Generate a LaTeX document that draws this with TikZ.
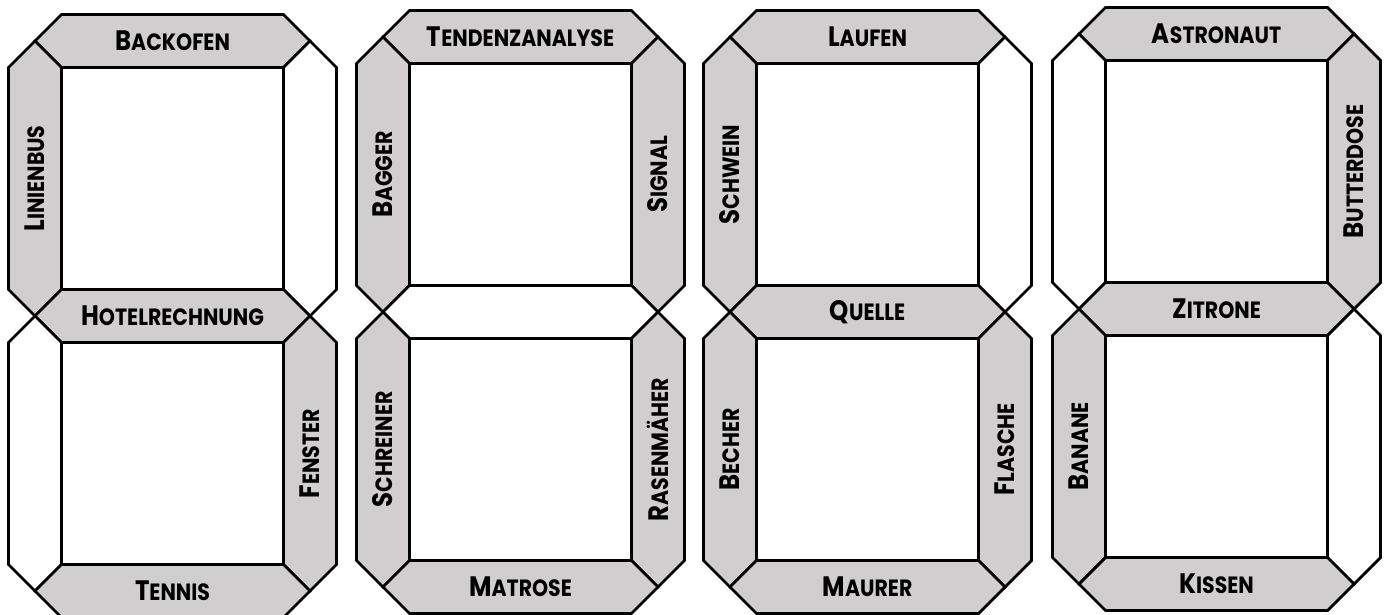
\documentclass[tikz,border=0pt]{standalone}
\usepackage{fontspec}
\setmainfont{Poppins}[FakeStretch=0.87]
\usepackage{tikz}

\definecolor{seggray}{HTML}{D0CECE}

% segment geometry (in px units)
\newcommand{\segh}{26.5}
\newcommand{\segl}{222}

% horizontal and vertical segment, drawn from the left/top tip
\newcommand{\hseg}[3]{\draw[#3] (#1,#2) -- ++(\segh,\segh) -- ++(\segl,0) -- ++(\segh,-\segh) -- ++(-\segh,-\segh) -- ++(-\segl,0) -- cycle;}
\newcommand{\vseg}[3]{\draw[#3] (#1,#2) -- ++(\segh,-\segh) -- ++(0,-\segl) -- ++(-\segh,-\segh) -- ++(-\segh,\segh) -- ++(0,\segl) -- cycle;}

% small caps by hand
\newcommand{\sccap}[2]{{\fontsize{16}{16}\selectfont #1}{\fontsize{13.4}{13}\selectfont #2}}

\begin{document}
\begin{tikzpicture}[
    x=0.02cm, y=0.02cm,
    seg/.style={line width=1.6pt},
    on/.style={seg, fill=seggray},
    off/.style={seg, fill=white},
    lbl/.style={font=\bfseries, inner sep=0pt}
]

\useasboundingbox (0,0) rectangle (1387,-615);

% ==================== DIGIT 1 ====================
\begin{scope}[shift={(35,-41)}]
    % Segments
    \hseg{0}{0}{on}
    \vseg{0}{0}{on}
    \vseg{275}{0}{off}
    \hseg{0}{-275}{on}
    \vseg{0}{-275}{off}
    \vseg{275}{-275}{on}
    \hseg{0}{-550}{on}

    % Labels
    \node[lbl] (backofen) at (137.5,0) {\sccap{B}{ACKOFEN}};
    \node[lbl, rotate=90] (linienbus) at (0,-137.5) {\sccap{L}{INIENBUS}};
    \node[lbl] (hotel) at (137.5,-275) {\sccap{H}{OTELRECHNUNG}};
    \node[lbl, rotate=90] (fenster) at (275,-412.5) {\sccap{F}{ENSTER}};
    \node[lbl] (tennis) at (137.5,-550) {\sccap{T}{ENNIS}};
\end{scope}

% ==================== DIGIT 2 ====================
\begin{scope}[shift={(383,-37)}]
    % Segments
    \hseg{0}{0}{on}
    \vseg{0}{0}{on}
    \vseg{275}{0}{on}
    \hseg{0}{-275}{off}
    \vseg{0}{-275}{on}
    \vseg{275}{-275}{on}
    \hseg{0}{-550}{on}

    % Labels
    \node[lbl] (tendenz) at (137.5,0) {\sccap{T}{ENDENZANALYSE}};
    \node[lbl, rotate=90] (bagger) at (0,-137.5) {\sccap{B}{AGGER}};
    \node[lbl, rotate=90] (signal) at (275,-137.5) {\sccap{S}{IGNAL}};
    \node[lbl, rotate=90] (schreiner) at (0,-412.5) {\sccap{S}{CHREINER}};
    \node[lbl, rotate=90] (rasen) at (275,-412.5) {\sccap{R}{ASENMÄHER}};
    \node[lbl] (matrose) at (137.5,-550) {\sccap{M}{ATROSE}};
\end{scope}

% ==================== DIGIT 3 ====================
\begin{scope}[shift={(730,-37)}]
    % Segments
    \hseg{0}{0}{on}
    \vseg{0}{0}{on}
    \vseg{275}{0}{off}
    \hseg{0}{-275}{on}
    \vseg{0}{-275}{on}
    \vseg{275}{-275}{on}
    \hseg{0}{-550}{on}

    % Labels
    \node[lbl] (laufen) at (137.5,0) {\sccap{L}{AUFEN}};
    \node[lbl, rotate=90] (schwein) at (0,-137.5) {\sccap{S}{CHWEIN}};
    \node[lbl] (quelle) at (137.5,-275) {\sccap{Q}{UELLE}};
    \node[lbl, rotate=90] (becher) at (0,-412.5) {\sccap{B}{ECHER}};
    \node[lbl, rotate=90] (flasche) at (275,-412.5) {\sccap{F}{LASCHE}};
    \node[lbl] (maurer) at (137.5,-550) {\sccap{M}{AURER}};
\end{scope}

% ==================== DIGIT 4 ====================
\begin{scope}[shift={(1079,-34)}]
    % Segments
    \hseg{0}{0}{on}
    \vseg{0}{0}{off}
    \vseg{275}{0}{on}
    \hseg{0}{-275}{on}
    \vseg{0}{-275}{on}
    \vseg{275}{-275}{off}
    \hseg{0}{-550}{on}

    % Labels
    \node[lbl] (astronaut) at (137.5,0) {\sccap{A}{STRONAUT}};
    \node[lbl, rotate=90] (butter) at (275,-137.5) {\sccap{B}{UTTERDOSE}};
    \node[lbl] (zitrone) at (137.5,-275) {\sccap{Z}{ITRONE}};
    \node[lbl, rotate=90] (banane) at (0,-412.5) {\sccap{B}{ANANE}};
    \node[lbl] (kissen) at (137.5,-550) {\sccap{K}{ISSEN}};
\end{scope}

\end{tikzpicture}
\end{document}
